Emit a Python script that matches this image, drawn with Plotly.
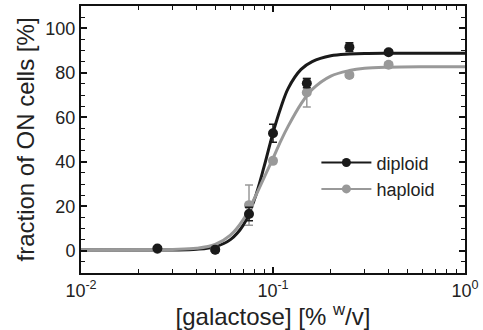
import plotly.graph_objects as go

# measured data points
conc = [0.025, 0.05, 0.075, 0.1, 0.15, 0.25, 0.4]
diploid = [1.0, 0.5, 16.5, 52.8, 75.3, 91.5, 89.2]
diploid_err = [0.8, 0.6, 3.0, 4.0, 2.0, 2.0, 1.0]
haploid = [0.8, 0.5, 20.5, 40.4, 71.1, 79.0, 83.6]
haploid_err = [0.5, 0.5, 9.0, 1.0, 6.5, 1.0, 1.0]

# fitted curves
fit_x = [0.01, 0.02, 0.03, 0.04, 0.05, 0.06, 0.07, 0.08, 0.09, 0.1, 0.11,
         0.12, 0.14, 0.16, 0.2, 0.25, 0.3, 0.4, 0.6, 1.0]
fit_diploid = [0.3, 0.3, 0.35, 0.65, 1.8, 5.0, 11.5, 23.0, 38.0, 53.0, 64.5,
               73.0, 81.5, 85.0, 87.6, 88.4, 88.7, 88.8, 88.8, 88.8]
fit_haploid = [0.3, 0.4, 0.6, 1.1, 2.8, 7.0, 14.0, 23.5, 33.0, 41.5, 49.5,
               56.0, 66.0, 72.5, 78.5, 81.0, 82.0, 82.5, 82.7, 82.7]

x_tickvals = [0.01, 0.1, 1]
x_ticktext = ["10<sup>-2</sup>", "10<sup>-1</sup>", "10<sup>0</sup>"]
y_tickvals = [0, 20, 40, 60, 80, 100]

BLACK = "#1a1a1a"
GRAY = "#999999"
FONT = "Arial, Liberation Sans, sans-serif"

fig = go.Figure()
fig.add_trace(go.Scatter(x=fit_x, y=fit_diploid, mode="lines", line=dict(color=BLACK, width=3, shape="spline"),
                         showlegend=False, hoverinfo="skip"))
fig.add_trace(go.Scatter(x=fit_x, y=fit_haploid, mode="lines", line=dict(color=GRAY, width=3, shape="spline"),
                         showlegend=False, hoverinfo="skip"))
fig.add_trace(go.Scatter(x=conc, y=haploid, mode="markers",
                         marker=dict(color=GRAY, size=10),
                         error_y=dict(type="data", array=haploid_err, color=GRAY, thickness=1.5, width=4),
                         showlegend=False))
fig.add_trace(go.Scatter(x=conc, y=diploid, mode="markers",
                         marker=dict(color=BLACK, size=10),
                         error_y=dict(type="data", array=diploid_err, color=BLACK, thickness=1.5, width=4),
                         showlegend=False))
fig.add_trace(go.Scatter(x=[None], y=[None], mode="lines+markers", name="diploid",
                         line=dict(color=BLACK, width=2), marker=dict(color=BLACK, size=9)))
fig.add_trace(go.Scatter(x=[None], y=[None], mode="lines+markers", name="haploid",
                         line=dict(color=GRAY, width=2), marker=dict(color=GRAY, size=9)))

fig.update_layout(
    width=483, height=330,
    margin=dict(l=81, r=18, t=4, b=57),
    paper_bgcolor="white", plot_bgcolor="white",
    font=dict(family=FONT, size=18, color="#222222"),
    legend=dict(x=0.613, y=0.482, xanchor="left", yanchor="top", bgcolor="rgba(0,0,0,0)",
                font=dict(size=18), tracegroupgap=0, itemwidth=50),
    showlegend=True,
)
fig.update_xaxes(
    type="log", range=[-2, 0],
    tickvals=x_tickvals, ticktext=x_ticktext,
    ticks="inside", ticklen=6, tickwidth=1.5, tickcolor="#111111",
    minor=dict(dtick="D1", ticks="inside", ticklen=4, tickwidth=1.2, tickcolor="#111111"),
    showline=True, linecolor="#111111", linewidth=2, mirror="allticks",
    showgrid=False, zeroline=False,
    tickfont=dict(size=18),
    title=dict(text="[galactose] [% <sup>w</sup>/v]", font=dict(size=24), standoff=2),
)
fig.update_yaxes(
    range=[-10, 110],
    tickvals=y_tickvals,
    ticks="inside", ticklen=6, tickwidth=1.5, tickcolor="#111111",
    minor=dict(dtick=5, ticks="inside", ticklen=4, tickwidth=1.2, tickcolor="#111111"),
    showline=True, linecolor="#111111", linewidth=2, mirror="allticks",
    showgrid=False, zeroline=False,
    tickfont=dict(size=18),
    title=dict(text="fraction of ON cells [%]", font=dict(size=24), standoff=4),
)

fig.write_html("out.html")
